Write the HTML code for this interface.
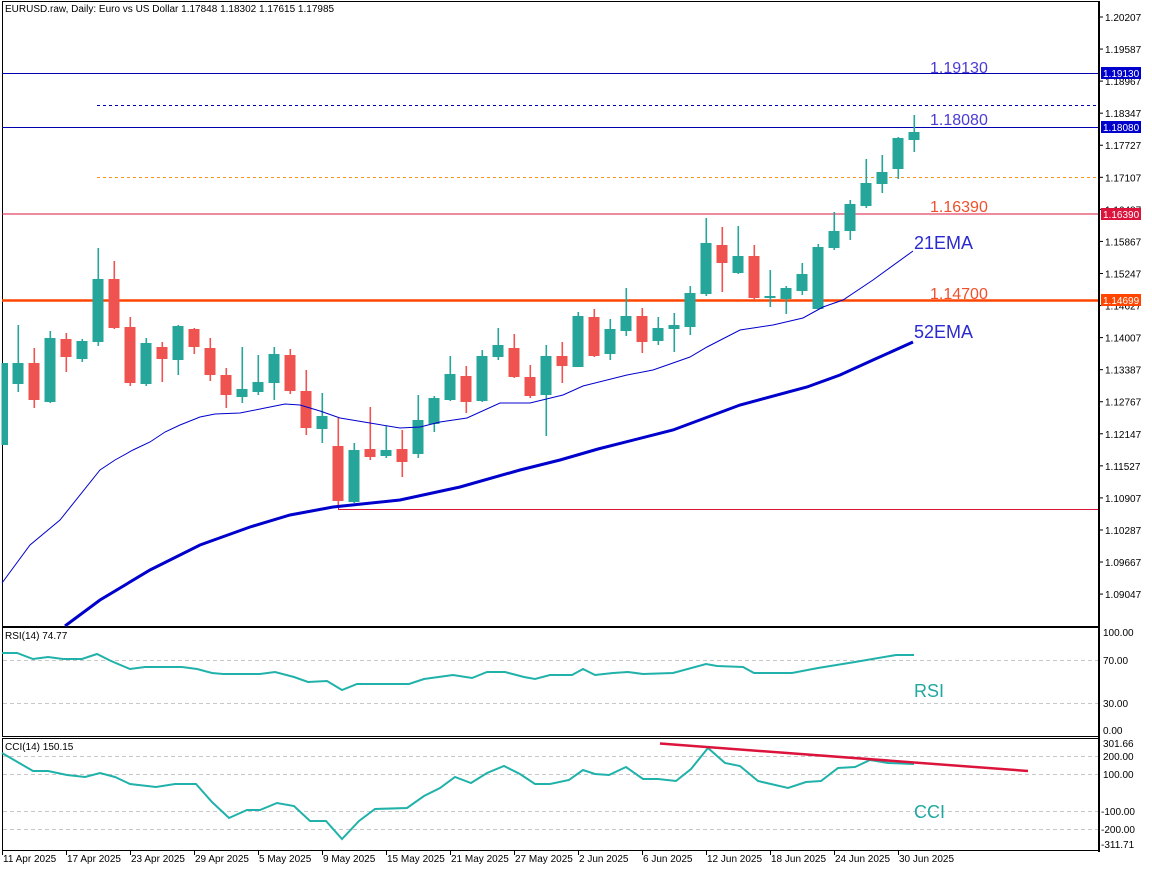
<!DOCTYPE html>
<html><head><meta charset="utf-8"><style>
html,body{margin:0;padding:0;background:#fff;}
svg{display:block;font-family:"Liberation Sans",sans-serif;}
</style></head><body>
<svg id="s" width="1152" height="870" xmlns="http://www.w3.org/2000/svg">
<rect x="0" y="0" width="1152" height="870" fill="#fff"/>
<!-- panel borders -->
<rect x="2.5" y="1.5" width="1096" height="625" fill="none" stroke="#000" stroke-width="1"/>
<rect x="2.5" y="627.5" width="1096" height="109" fill="none" stroke="#000" stroke-width="1"/>
<rect x="2.5" y="738.5" width="1096" height="112" fill="none" stroke="#000" stroke-width="1"/>
<line x1="1099" y1="1" x2="1099" y2="852" stroke="#000" stroke-width="2"/>
<!-- horizontal levels -->
<line x1="2" y1="73.5" x2="1098" y2="73.5" stroke="#0000b0" stroke-width="1"/>
<line x1="97" y1="105.5" x2="1098" y2="105.5" stroke="#0000b0" stroke-width="1" stroke-dasharray="3,3"/>
<line x1="2" y1="127.5" x2="1098" y2="127.5" stroke="#0000b0" stroke-width="1"/>
<line x1="97" y1="177.5" x2="1098" y2="177.5" stroke="#f7931e" stroke-width="1" stroke-dasharray="3,3"/>
<line x1="2" y1="214" x2="1098" y2="214" stroke="#dc143c" stroke-width="1"/>
<line x1="2" y1="300.5" x2="1098" y2="300.5" stroke="#ff4500" stroke-width="2.5"/>
<polyline points="338.5,501 338.5,509.5 1098,509.5" fill="none" stroke="#dc143c" stroke-width="1"/>
<g id="candles"></g>
<!-- EMAs -->
<polyline fill="none" stroke="#0000cc" stroke-width="1" points="2,583 30,545 60,520 100,470 115,460 133,450 150,442 165,432 180,425 200,417 215,414 240,413 265,408 285,404 300,405 320,411 340,418 370,423 400,428 420,427 440,422 467,418 500,403 530,403 563,395 583,386 627,375 653,370 673,363 690,357 707,347 740,330 773,325 803,318 823,307 843,300 873,280 913,251"/>
<polyline fill="none" stroke="#0000cc" stroke-width="3" points="65,626 100,600 150,570 200,545 250,527 290,515 333,507 400,500 460,487 520,470 560,460 598,449 673,430 740,405 807,387 840,375 873,360 913,342"/>
<!-- level labels -->
<g font-size="16">
<text x="930" y="73" fill="#4b3bd4">1.19130</text>
<text x="930" y="125" fill="#4b3bd4">1.18080</text>
<text x="930" y="212" fill="#f0502d">1.16390</text>
<text x="930" y="299" fill="#f0502d">1.14700</text>
</g>
<text x="914" y="249" font-size="18" fill="#2a2ad0">21EMA</text>
<text x="914" y="338" font-size="18" fill="#2a2ad0">52EMA</text>
<text x="5" y="12" font-size="10" fill="#000">EURUSD.raw, Daily:  Euro vs US Dollar  1.17848 1.18302 1.17615 1.17985</text>
<!-- price axis -->
<g font-size="10" fill="#000" id="pax">
</g>
<g font-size="10" fill="#fff">
<rect x="1101" y="67" width="40" height="12" fill="#0000cc"/><text x="1103" y="77">1.19130</text>
<rect x="1101" y="121" width="40" height="12" fill="#0000cc"/><text x="1103" y="131">1.18080</text>
<rect x="1101" y="208" width="40" height="12" fill="#dc143c"/><text x="1103" y="218">1.16390</text>
<rect x="1101" y="294" width="40" height="12" fill="#ff4500"/><text x="1103" y="304">1.14699</text>
</g>
<!-- RSI -->
<line x1="3" y1="660.5" x2="1098" y2="660.5" stroke="#c8c8c8" stroke-dasharray="4,3"/>
<line x1="3" y1="703.5" x2="1098" y2="703.5" stroke="#c8c8c8" stroke-dasharray="4,3"/>
<polyline fill="none" stroke="#20b2aa" stroke-width="2" points="2,653 17,653 33,659 48,657 63,659 82,659 97,654 111,661 130,669 145,667 182,667 197,669 212,673 223,674 260,674 275,672 294,677 308,682 327,681 342,690 357,684 409,684 424,679 453,675 472,678 487,672 505,672 524,677 535,679 550,675 572,675 583,669 595,675 613,673 628,672 643,674 673,673 706,664 717,666 743,667 754,673 792,673 818,668 855,662 896,655 914,655"/>
<text x="5" y="639" font-size="10" fill="#000">RSI(14) 74.77</text>
<text x="914" y="697" font-size="18" fill="#20a8a0">RSI</text>
<g font-size="10" fill="#000">
<text x="1103" y="636">100.00</text><text x="1103" y="664">70.00</text><text x="1103" y="707">30.00</text><text x="1103" y="734">0.00</text>
<text x="1103" y="747">301.66</text><text x="1103" y="760">200.00</text><text x="1103" y="778">100.00</text><text x="1101" y="815">-100.00</text><text x="1101" y="833">-200.00</text><text x="1101" y="848">-311.71</text>
</g>
<!-- CCI -->
<line x1="3" y1="756.5" x2="1098" y2="756.5" stroke="#c8c8c8" stroke-dasharray="4,3"/>
<line x1="3" y1="774.5" x2="1098" y2="774.5" stroke="#c8c8c8" stroke-dasharray="4,3"/>
<line x1="3" y1="811.5" x2="1098" y2="811.5" stroke="#c8c8c8" stroke-dasharray="4,3"/>
<line x1="3" y1="829.5" x2="1098" y2="829.5" stroke="#c8c8c8" stroke-dasharray="4,3"/>
<polyline fill="none" stroke="#20b2aa" stroke-width="2" points="2,753 33,771 48,771 67,775 85,777 100,773 115,777 130,784 156,787 175,784 196,784 212,802 229,818 247,810 260,810 277,803 294,806 310,821 326,821 342,839 359,821 375,809 407,808 424,796 440,788 455,777 471,783 487,773 504,766 520,774 535,784 550,784 569,780 583,770 595,774 609,775 626,767 643,779 658,779 676,781 691,769 708,748 725,763 740,766 758,781 788,788 806,782 821,781 838,768 855,767 870,760 888,763 914,764"/>
<line x1="660" y1="743.5" x2="1028" y2="771" stroke="#dc143c" stroke-width="2.5"/>
<text x="5" y="750" font-size="10" fill="#000">CCI(14) 150.15</text>
<text x="914" y="818" font-size="18" fill="#20a8a0">CCI</text>
<!-- date axis -->
<g font-size="10" fill="#000" id="dax"></g>
</svg>
<script>
var ns="http://www.w3.org/2000/svg";
function el(t,a,p){var e=document.createElementNS(ns,t);for(var k in a)e.setAttribute(k,a[k]);p.appendChild(e);return e;}
var C=[[363,445,363,445,1],[363,384,325,392,1],[363,400,348,408,0],[338,402,331,403,1],[339,357,333,372,0],[341,359,339,362,1],[279,342,248,346,1],[279,328,261,329,0],[327,383,317,386,0],[343,384,338,386,1],[347,359,342,382,0],[326,360,325,375,1],[329,347,328,354,0],[348,375,338,381,0],[375,395,368,408,0],[389,397,347,403,1],[382,392,355,395,1],[354,383,347,400,1],[355,391,349,394,0],[391,428,370,435,0],[416,429,393,443,1],[446,501,418,507,0],[450,502,443,503,1],[449,457,407,460,0],[450,456,426,458,1],[449,462,430,477,0],[420,454,395,458,1],[398,424,396,432,1],[374,400,356,401,1],[376,402,366,413,0],[356,401,350,402,1],[345,357,328,360,1],[348,377,334,378,0],[377,396,365,398,0],[356,395,345,436,1],[356,366,342,383,0],[316,367,312,367,1],[317,356,309,357,0],[329,354,319,360,1],[316,331,288,336,1],[316,342,308,353,0],[328,341,317,345,1],[325,329,313,352,1],[293,327,286,335,1],[243,294,218,296,1],[245,263,227,292,0],[256,273,226,274,1],[256,298,245,300,0],[296,298,270,307,1],[288,299,286,314,1],[274,291,263,295,1],[247,309,244,310,1],[231,248,212,250,1],[204,231,200,240,1],[183,206,159,208,1],[172,184,155,193,1],[138,169,137,179,1],[132,140,115,152,1]];
var g=document.getElementById("candles");
C.forEach(function(c,i){var x=2+16*i;var col=c[4]?"#26a69a":"#ef5350";
el("rect",{x:x-0.5,y:c[2],width:1.6,height:c[3]-c[2],fill:col},g);
var bx=x-5.5,bw=11;if(i==0){bx=3;bw=5;}
el("rect",{x:bx,y:c[0],width:bw,height:Math.max(2,c[1]-c[0]),fill:col},g);});
var P=["1.20207","1.19587","1.18967","1.18347","1.17727","1.17107","1.16487","1.15867","1.15247","1.14627","1.14007","1.13387","1.12767","1.12147","1.11527","1.10907","1.10287","1.09667","1.09047"];
var pa=document.getElementById("pax");
P.forEach(function(p,i){var y=17+i*32.06;el("line",{x1:1099,y1:y,x2:1103,y2:y,stroke:"#000"},pa);var t=el("text",{x:1105,y:y+4},pa);t.textContent=p;});
var D=["11 Apr 2025","17 Apr 2025","23 Apr 2025","29 Apr 2025","5 May 2025","9 May 2025","15 May 2025","21 May 2025","27 May 2025","2 Jun 2025","6 Jun 2025","12 Jun 2025","18 Jun 2025","24 Jun 2025","30 Jun 2025"];
var da=document.getElementById("dax");
D.forEach(function(d,i){var x=2+64*i;el("line",{x1:x+0.5,y1:851,x2:x+0.5,y2:855,stroke:"#000"},da);var t=el("text",{x:x+1,y:862},da);t.textContent=d;});
</script>
</body></html>
